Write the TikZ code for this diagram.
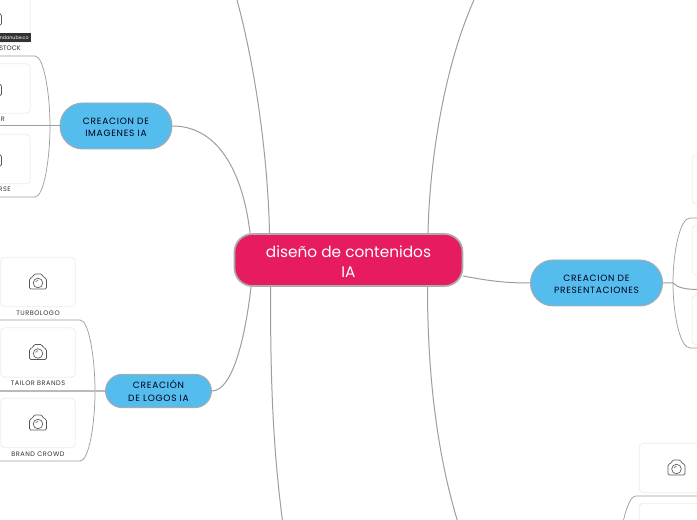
\documentclass[tikz,border=0pt]{standalone}
\usepackage{fontspec}
\setmainfont{Poppins}
\newfontfamily\spacedfont[LetterSpace=8]{Poppins}
\newcommand{\lowr}[1]{\raisebox{-1.1pt}[\height][\depth]{#1}}
\definecolor{rootpink}{HTML}{E71B60}
\definecolor{topicblue}{HTML}{55BCEE}
\tikzset{
  x=0.75pt,y=-0.75pt,
  centre/.style={draw=black!33,line width=1.3pt,fill=rootpink,rounded corners=13.5pt,minimum width=171pt,minimum height=39pt,inner sep=0pt,align=center,text=white,font=\fontsize{11.5}{14.9}\selectfont},
  topic/.style={draw=black!33,line width=0.7pt,fill=topicblue,rounded corners=17pt,inner sep=0pt,align=center,text=black!90!blue,font=\spacedfont\fontsize{6.8}{9.4}\selectfont},
  link/.style={draw=black!38,line width=0.75pt},
  brace/.style={draw=black!38,line width=0.55pt},
  photo/.style={draw=black!7,line width=0.6pt,fill=white,rounded corners=3pt,minimum width=56pt,minimum height=37pt,inner sep=0pt},
  captext/.style={inner sep=0pt,text=black!80,font=\spacedfont\fontsize{4.9}{6}\selectfont},
  cam/.style={draw=black!65,line width=0.5pt,rounded corners=1pt},
  pics/camicon/.style={code={
    \draw[cam] (-8.5,7) -- (-8.5,-3.5) -- (-5,-5) -- (-4,-8) -- (4,-8) -- (5,-5) -- (8.5,-3.5) -- (8.5,7) -- cycle;
    \draw[draw=black!65,line width=0.5pt] (0,1) circle (4.8);
    \draw[draw=black!65,line width=0.4pt] (-2.4,-0.2) arc (200:270:2.5);
  }}
}
\begin{document}
\begin{tikzpicture}
\useasboundingbox (0,0) rectangle (697,520);
\clip (0,0) rectangle (697,520);
\fill[white] (0,0) rectangle (697,520);
% free ends
\coordinate (topA) at (237,0);
\coordinate (topB) at (474,0);
\coordinate (botA) at (282.5,521);
\coordinate (botB) at (457.5,521);
\coordinate (offI) at (-2,126);
\coordinate (offL) at (-2,391);
\coordinate (offP) at (699,289.5);
% brackets and stems lie behind the cards
\draw[brace] (-2,56) -- (35,56) .. controls (44,56) and (50,95) .. (50,126) .. controls (50,158) and (44,197) .. (35,197) -- (-2,197);
\draw[brace] (-2,320) -- (80,320) .. controls (89,320) and (95,358) .. (95,391) .. controls (95,424) and (89,461) .. (80,461) -- (-2,461);
\draw[brace] (699,218) -- (690,218) .. controls (680,218) and (673,252) .. (673,283) .. controls (673,314) and (680,348) .. (690,348) -- (699,348);
\draw[brace] (699,496) -- (636,496) .. controls (630,496) and (626,510) .. (623,522);
% photo cards
\foreach \n/\px/\py in {p1/-7/18,p2/-7/88.5,p3/-7/159,p4/38/282,p5/38/352.5,p6/38/423,p7/729.5/179.5,p8/729.5/250,p9/729.5/320,p10/676.5/468,p11/676.5/528}{
  \node[photo] (\n) at (\px,\py) {};
}
% cameras
\foreach \n in {p1,p2,p3,p4,p5,p6,p10}{
  \path (\n.center) pic {camicon};
}
% dark source bar
\fill[black!80] (0,33) rectangle (30.5,42.5);
\node[inner sep=0pt,text=white,font=\fontsize{3.6}{4}\selectfont,anchor=east] (src) at (29,38) {ndanube.co};
% captions
\node[inner sep=0pt,text=black!80,font=\fontsize{4.9}{6}\selectfont,anchor=east] (c1) at (21,48.5) {STOCK};
\node[captext,anchor=east] (c2) at (5,119.5) {R};
\node[captext,anchor=east] (c3) at (11,189.5) {RSE};
\node[captext] (c4) at (38,313.5) {TURBOLOGO};
\node[captext] (c5) at (38,383.5) {TAILOR BRANDS};
\node[captext] (c6) at (38,454.5) {BRAND CROWD};
% root and topics
\node[centre] (root) at (348.5,260) {\lowr{diseño de contenidos}\\\lowr{IA}};
\node[topic,minimum width=84pt,minimum height=34.5pt] (imag) at (116,126) {\lowr{CREACION DE}\\\lowr{IMAGENES IA}};
\node[topic,minimum width=79.5pt,minimum height=25pt,rounded corners=12.5pt] (logo) at (158.5,391) {CREACIÓN\\DE LOGOS IA};
\node[topic,minimum width=99pt,minimum height=34.5pt] (pres) at (596.5,283) {\lowr{CREACION DE}\\\lowr{PRESENTACIONES}};
% branches from root
\coordinate (rImag) at (250,233);
\coordinate (rLogo) at (251,287);
\coordinate (rPres) at (463,276);
\coordinate (rTopA) at (269.5,233);
\coordinate (rTopB) at (428,233);
\coordinate (rBotA) at (270.5,287);
\coordinate (rBotB) at (427.5,287);
\draw[link] (imag.east) .. controls (222,126) and (244,180) .. (rImag);
\draw[link] (logo.east) .. controls (232,391) and (245,340) .. (rLogo);
\draw[link] (rPres) .. controls (490,281) and (505,283) .. (pres.west);
\draw[link] (topA) .. controls (256,70) and (268,160) .. (rTopA);
\draw[link] (topB) .. controls (447,60) and (430,150) .. (rTopB);
\draw[link] (botA) .. controls (272,440) and (270.5,370) .. (rBotA);
\draw[link] (botB) .. controls (436,450) and (427.5,370) .. (rBotB);
\draw[link] (imag.west) -- (offI);
\draw[draw=black!27,line width=1.1pt] (logo.west) -- (offL);
\draw[link] (pres.east) -- (673,283) .. controls (678,288) and (686,289.5) .. (offP);
\end{tikzpicture}
\end{document}
